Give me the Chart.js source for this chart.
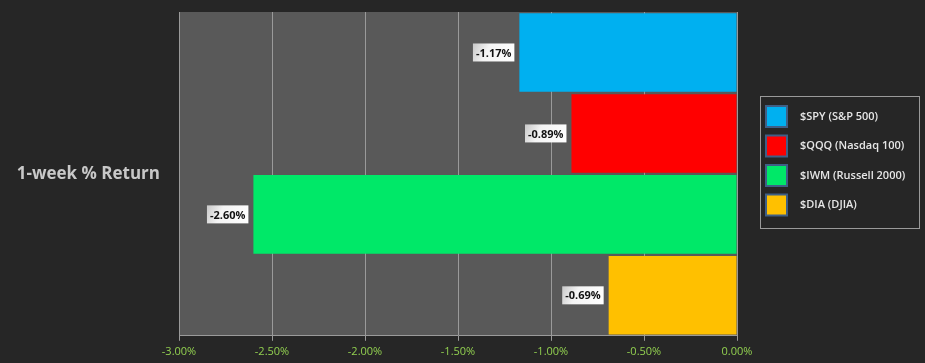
<!DOCTYPE html>
<html>
<head>
<meta charset="utf-8">
<script src="https://cdn.jsdelivr.net/npm/chart.js@4"></script>
<style>
  html, body { margin: 0; padding: 0; background: #262626; }
  #wrap { width: 925px; height: 363px; }
</style>
</head>
<body>
<div id="wrap"><canvas id="chart-bar"></canvas></div>
<script>
const categories = ["1-week % Return"];
const seriesNames = ["$SPY (S&P 500)", "$QQQ (Nasdaq 100)", "$IWM (Russell 2000)", "$DIA (DJIA)"];
const seriesValues = [-1.17, -0.89, -2.60, -0.69];
const seriesColors = ["#00b0f0", "#ff0000", "#00e868", "#ffc000"];
const tickValues = [-3, -2.5, -2, -1.5, -1, -0.5, 0];

const plotBackground = {
  id: "plotBackground",
  beforeDraw(chart) {
    const { ctx, chartArea: a } = chart;
    ctx.save();
    ctx.fillStyle = "#595959";
    ctx.fillRect(a.left, a.top, a.right - a.left, a.bottom - a.top);
    ctx.restore();
  },
};

// boxed value labels on the left of each bar
const valueLabels = {
  id: "valueLabels",
  afterDatasetsDraw(chart) {
    const ctx = chart.ctx;
    ctx.save();
    ctx.font = "bold 11px 'Open Sans', sans-serif";
    ctx.textBaseline = "middle";
    chart.data.datasets.forEach((ds, i) => {
      const bar = chart.getDatasetMeta(i).data[0];
      const text = ds.data[0].toFixed(2) + "%";
      const w = ctx.measureText(text).width + 6;
      const h = 18;
      const right = Math.min(bar.x, bar.base) - 5;
      const x = right - w;
      const y = bar.y - h / 2;
      const g = ctx.createLinearGradient(x, y, x + w, y + h);
      g.addColorStop(0, "#c8c8c8");
      g.addColorStop(0.35, "#f4f4f4");
      g.addColorStop(1, "#ffffff");
      ctx.fillStyle = g;
      ctx.fillRect(x, y, w, h);
      ctx.fillStyle = "#111111";
      ctx.textAlign = "center";
      ctx.fillText(text, x + w / 2, bar.y + 1);
    });
    ctx.restore();
  },
};

// boxed legend on the right
const boxLegend = {
  id: "boxLegend",
  afterDraw(chart) {
    const ctx = chart.ctx;
    const bx = 760, by = 96, bw = 159, bh = 132;
    ctx.save();
    ctx.strokeStyle = "#9a9a9a";
    ctx.lineWidth = 1;
    ctx.strokeRect(bx + 0.5, by + 0.5, bw, bh);
    ctx.font = "600 11px 'Open Sans', sans-serif";
    ctx.textBaseline = "middle";
    ctx.textAlign = "left";
    chart.data.datasets.forEach((ds, i) => {
      const sy = by + 10 + i * 29.5;
      ctx.fillStyle = ds.backgroundColor;
      ctx.fillRect(766, sy, 21, 21);
      ctx.strokeStyle = "#3f5f86";
      ctx.lineWidth = 2;
      ctx.strokeRect(766, sy, 21, 21);
      ctx.fillStyle = "#e6e6e6";
      ctx.fillText(ds.label, 800, sy + 10.5);
    });
    ctx.restore();
  },
};

const datasets = seriesNames.map((name, i) => ({
  label: name,
  data: [seriesValues[i]],
  backgroundColor: seriesColors[i],
  borderWidth: 0,
  barPercentage: 0.97,
  categoryPercentage: 1,
}));

new Chart(document.getElementById("chart-bar"), {
  type: "bar",
  data: { labels: categories, datasets },
  plugins: [plotBackground, valueLabels, boxLegend],
  options: {
    indexAxis: "y",
    responsive: true,
    maintainAspectRatio: false,
    animation: false,
    layout: { padding: { top: 12, right: 188, bottom: 1, left: 0 } },
    scales: {
      x: {
        min: -3,
        max: 0,
        afterBuildTicks(scale) {
          scale.ticks = tickValues.map((v) => ({ value: v }));
        },
        grid: {
          color: "#9a9a9a",
          lineWidth: 1,
          drawTicks: true,
          tickLength: 5,
          tickColor: "#9a9a9a",
        },
        border: { display: true, color: "#9a9a9a" },
        ticks: {
          color: "#92d050",
          font: { size: 11, family: "'Open Sans', sans-serif" },
          padding: 4,
          maxRotation: 0,
          callback: (v) => Number(v).toFixed(2) + "%",
        },
      },
      y: {
        afterFit(scale) {
          scale.width = 179;
          scale.paddingTop = 0;
          scale.paddingBottom = 0;
        },
        grid: { display: false },
        border: { display: false },
        ticks: {
          color: "#c8c8c8",
          padding: 11,
          font: { size: 17, weight: "bold", family: "'Open Sans', sans-serif" },
        },
      },
    },
    plugins: {
      legend: { display: false },
      tooltip: { enabled: false },
    },
  },
});
</script>
</body>
</html>
